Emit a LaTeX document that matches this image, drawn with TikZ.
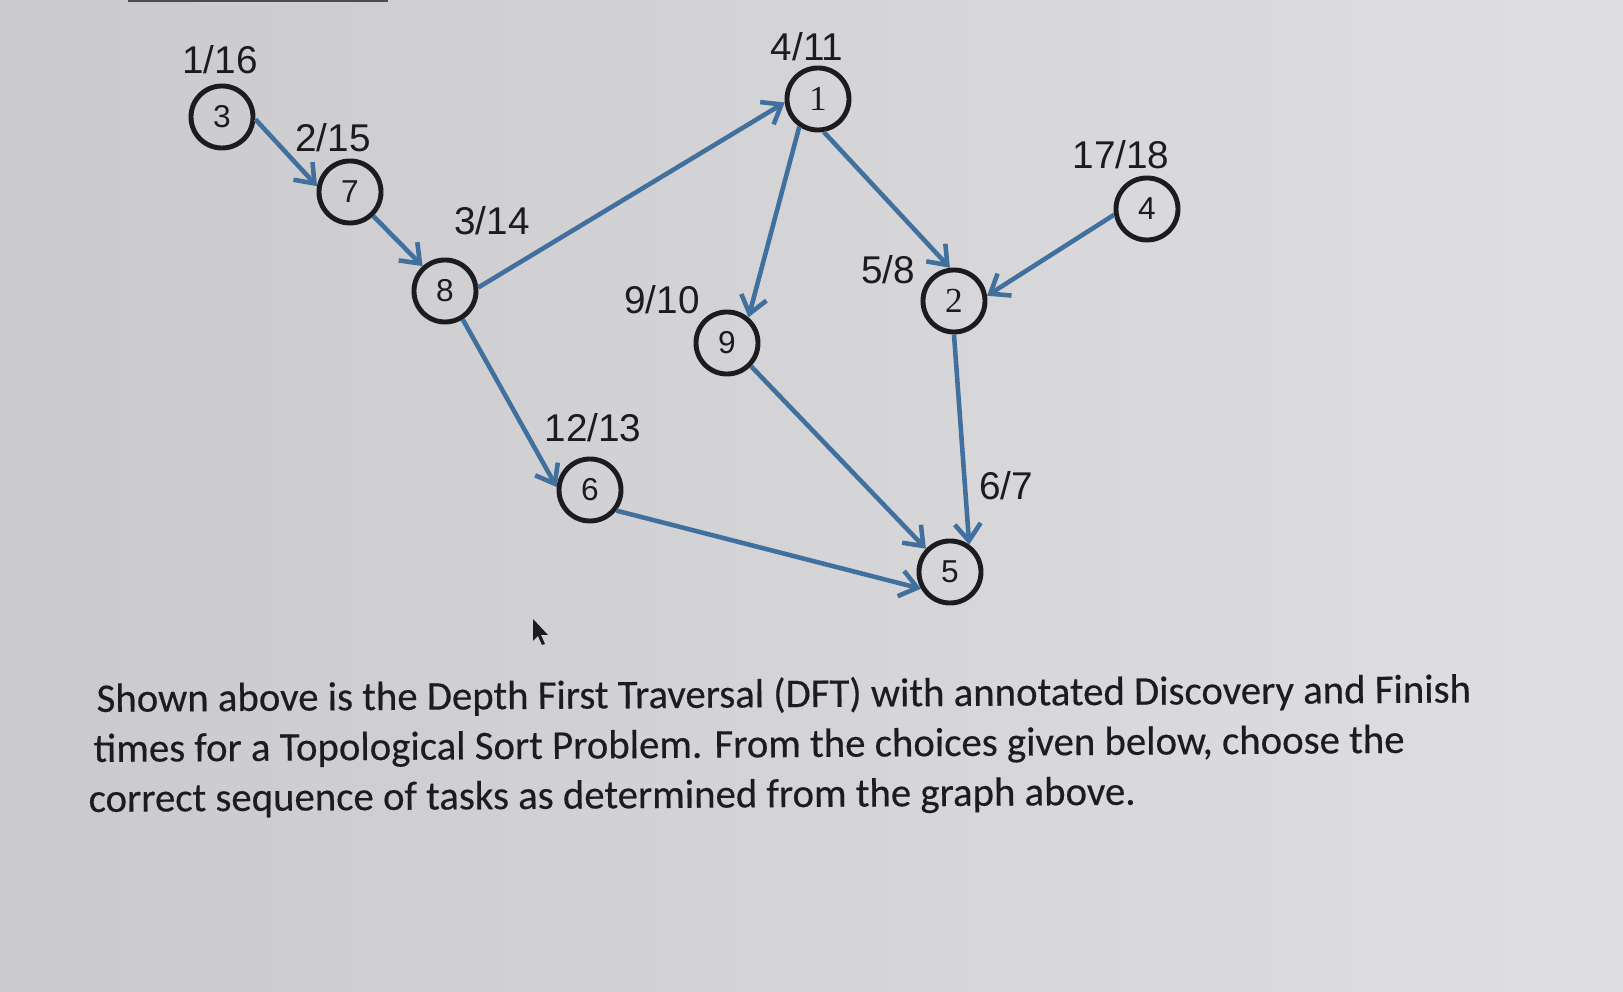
\documentclass[tikz,border=0pt]{standalone}
\usepackage{fontspec}
\setmainfont{Carlito}[FakeBold=0.35]
\newfontfamily\tagfont{Liberation Sans}
\newfontfamily\numserif{Liberation Serif}
\usepackage{xcolor}
\usetikzlibrary{arrows.meta}
\definecolor{edgeblue}{HTML}{41709F}
\definecolor{inkgray}{HTML}{1C1C1E}
\definecolor{bgleft}{HTML}{CACACC}
\definecolor{bgright}{HTML}{DFDFE1}
\tikzset{
  vertex/.style={circle, draw=inkgray, line width=1.4pt, minimum size=0.62cm, inner sep=0pt, text=inkgray, font=\tagfont\fontsize{9}{9}\selectfont},
  times/.style={text=inkgray, inner sep=0pt, font=\tagfont\fontsize{11}{11}\selectfont},
  arrow/.style={edgeblue, line width=1.3pt, -{Straight Barb[length=1.7mm, width=2.6mm, line width=1.3pt]}},
  question/.style={anchor=base west, inner sep=0pt, text=inkgray, rotate=0.4, font=\fontsize{11.6}{14}\selectfont}
}
\begin{document}
\begin{tikzpicture}[x=0.01cm, y=-0.01cm]
  % Background
  \useasboundingbox (0,0) rectangle (1623,992);
  \shade[left color=bgleft, right color=bgright] (0,0) rectangle (1623,992);
  \draw[gray!60!black, line width=0.8pt] (128,0.5) -- (388,0.5);

  % Nodes
  \node (v3) [vertex] at (222,117) {3};
  \node (v7) [vertex] at (350,192) {7};
  \node (v8) [vertex] at (445,291) {8};
  \node (v1) [vertex, font=\numserif\fontsize{10}{10}\selectfont] at (818,99) {1};
  \node (v9) [vertex] at (727,343) {9};
  \node (v2) [vertex, font=\numserif\fontsize{10}{10}\selectfont] at (954,301) {2};
  \node (v4) [vertex] at (1147,209) {4};
  \node (v6) [vertex] at (590,490) {6};
  \node (v5) [vertex] at (950,572) {5};

  % Discovery/finish times
  \node (t3) [times] at (220,60) {1/16};
  \node (t7) [times] at (333,138) {2/15};
  \node (t8) [times] at (492,221) {3/14};
  \node (t1) [times] at (807,47) {4/11};
  \node (t9) [times] at (662,300) {9/10};
  \node (t2) [times] at (888,270) {5/8};
  \node (t4) [times] at (1121,155) {17/18};
  \node (t6) [times] at (593,428) {12/13};
  \node (t5) [times] at (1006,486) {6/7};

  % Arrows
  \draw [arrow] (v3.-4) -- (v7.170);
  \draw [arrow] (v7.-46) -- (v8.132);
  \draw [arrow] (v8.6) -- (v1.186);
  \draw [arrow] (v1.236) -- (v9.50);
  \draw [arrow] (v1.-80) -- (v2.97);
  \draw [arrow] (v4.190) -- (v2.9);
  \draw [arrow] (v2.-90) -- (v5.55);
  \draw [arrow] (v9.-44) -- (v5.136);
  \draw [arrow] (v8.-58) -- (v6.175);
  \draw [arrow] (v6.-38) -- (v5.-150);

  % Pointer
  \fill[inkgray] (533,619) -- (533,641) -- (538,636) -- (542,645) -- (545,644) -- (541,635) -- (548,635) -- cycle;

  % Question text
  \node (q1) [question] at (96,712) {Shown above is the Depth First Traversal (DFT) with annotated Discovery and Finish};
  \node (q2) [question] at (93,762) {times for a Topological Sort Problem. From the choices given below, choose the};
  \node (q3) [question] at (88,812) {correct sequence of tasks as determined from the graph above.};
\end{tikzpicture}
\end{document}
